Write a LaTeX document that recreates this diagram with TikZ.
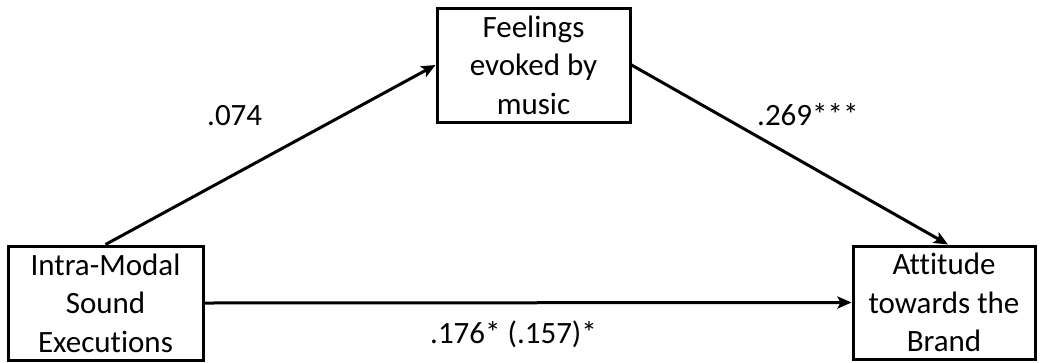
\documentclass[tikz,border=0pt]{standalone}
\usepackage{fontspec}
\setmainfont{Carlito}[Ligatures=NoCommon]
\usetikzlibrary{arrows.meta}
\begin{document}
\begin{tikzpicture}[x=1pt,y=-1pt,
  varbox/.style={draw,line width=3pt,align=center,inner sep=0pt,
    font=\fontsize{31}{38.5}\selectfont},
  coef/.style={anchor=base west,inner sep=0pt,font=\fontsize{31}{38.5}\selectfont},
  path/.style={line width=3pt,-{Stealth[length=14pt,width=12pt,inset=3pt]}}]
  \useasboundingbox (0,0) rectangle (1040,362);
  \node[varbox,minimum width=193pt,minimum height=114pt] (fe) at (533.5,65)
    {Feelings\\evoked by\\music};
  \node[varbox,minimum width=195pt,minimum height=114pt] (im) at (105.5,303)
    {Intra-Modal\\Sound\\Executions};
  \node[varbox,minimum width=182pt,minimum height=113pt] (ab) at (944,302.5)
    {Attitude\\towards the\\Brand};
  \draw[path] (im.north) -- (fe.west);
  \draw[path] (fe.east) -- ([xshift=4pt]ab.north);
  \draw[path] (im.east) -- (ab.west);
  \node[coef] (c1) at (207,125) {.074};
  \node[coef] (c2) at (757,125) {.269***};
  \node[coef] (c3) at (430,343) {.176* (.157)*};
\end{tikzpicture}
\end{document}
